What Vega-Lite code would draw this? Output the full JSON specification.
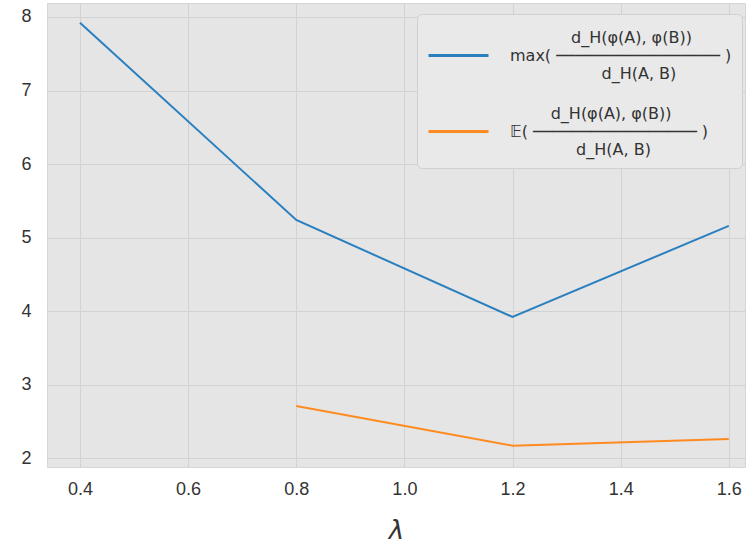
{
  "$schema": "https://vega.github.io/schema/vega-lite/v6.json",
  "width": 698,
  "height": 464,
  "autosize": "none",
  "padding": {"left": 47, "top": 3, "right": 10, "bottom": 84},
  "background": "white",
  "config": {
    "view": {"fill": "#E5E5E5", "stroke": "#D6D6D6"},
    "font": "Liberation Sans",
    "axis": {"gridColor": "#D2D2D2", "gridWidth": 1, "domain": false, "ticks": false, "labelColor": "#333333", "labelFontSize": 18, "labelFont": "Liberation Sans"}
  },
  "data": {"values": [
    {"lam": 0.4, "val": 7.92, "series": "max"},
    {"lam": 0.8, "val": 5.24, "series": "max"},
    {"lam": 1.2, "val": 3.92, "series": "max"},
    {"lam": 1.6, "val": 5.16, "series": "max"},
    {"lam": 0.8, "val": 2.71, "series": "mean"},
    {"lam": 1.2, "val": 2.17, "series": "mean"},
    {"lam": 1.6, "val": 2.26, "series": "mean"}
  ]},
  "mark": {"type": "line", "strokeWidth": 2, "clip": true},
  "encoding": {
    "x": {"field": "lam", "type": "quantitative", "scale": {"domain": [0.339, 1.63], "nice": false, "zero": false},
      "axis": {"values": [0.4, 0.6, 0.8, 1.0, 1.2, 1.4, 1.6], "format": ".1f", "labelPadding": 13, "title": "λ", "titleFont": "DejaVu Sans", "titleFontStyle": "italic", "titleFontWeight": "normal", "titleFontSize": 26, "titleColor": "#333333", "titlePadding": 19}},
    "y": {"field": "val", "type": "quantitative", "scale": {"domain": [1.88, 8.19], "nice": false, "zero": false},
      "axis": {"values": [2, 3, 4, 5, 6, 7, 8], "labelPadding": 16, "title": null}},
    "color": {"field": "series", "type": "nominal",
      "scale": {"domain": ["max", "mean"], "range": ["#2a7fbf", "#ff8a1f"]},
      "legend": {
        "title": null, "orient": "none", "legendX": 370, "legendY": 11,
        "labelExpr": "datum.value == 'max' ? ['\u200b\u00a0\u00a0\u00a0\u00a0\u00a0\u00a0\u00a0\u00a0\u00a0\u00a0\u00a0\u00a0d_H(φ(A), φ(B))', 'max( ───────────────── )', '\u200b\u00a0\u00a0\u00a0\u00a0\u00a0\u00a0\u00a0\u00a0\u00a0\u00a0\u00a0\u00a0\u00a0\u00a0\u00a0\u00a0\u00a0\u00a0d_H(A, B)'] : ['\u200b\u00a0\u00a0\u00a0\u00a0\u00a0\u00a0\u00a0\u00a0d_H(φ(A), φ(B))', '𝔼( ───────────────── )', '\u200b\u00a0\u00a0\u00a0\u00a0\u00a0\u00a0\u00a0\u00a0\u00a0\u00a0\u00a0\u00a0\u00a0d_H(A, B)']",
        "symbolType": "stroke", "symbolSize": 3600, "symbolStrokeWidth": 3,
        "labelFont": "DejaVu Sans", "labelFontSize": 16, "labelColor": "#333333", "labelOffset": 20, "labelLimit": 400,
        "rowPadding": 18, "padding": 10,
        "fillColor": "#E9E9E9", "strokeColor": "#D0D0D0", "cornerRadius": 5,
        "encode": {"labels": {"update": {"dy": {"value": -18}}}}
      }}
  }
}
